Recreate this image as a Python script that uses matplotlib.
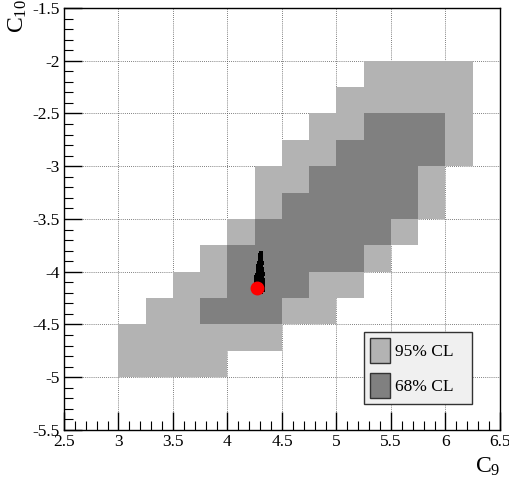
import matplotlib
matplotlib.use("Agg")
import matplotlib.pyplot as plt
from matplotlib.colors import ListedColormap
from matplotlib.patches import Patch
from matplotlib.ticker import MultipleLocator, FuncFormatter
import numpy as np

plt.rcParams['font.family'] = ['Liberation Serif', 'DejaVu Serif']
plt.rcParams['axes.unicode_minus'] = False

# bin edges of the CL map
c9_edges = np.arange(3.0, 6.26, 0.25)     # 13 bins
c10_edges = np.arange(-5.0, -1.99, 0.25)  # 12 bins

# 0 = outside, 1 = 95% CL, 2 = 68% CL ; rows from C10 = -5 upward
cl_levels = [
    [1, 1, 1, 1, 0, 0, 0, 0, 0, 0, 0, 0, 0],
    [1, 1, 1, 1, 1, 1, 0, 0, 0, 0, 0, 0, 0],
    [0, 1, 1, 2, 2, 2, 1, 1, 0, 0, 0, 0, 0],
    [0, 0, 1, 1, 2, 2, 2, 1, 1, 0, 0, 0, 0],
    [0, 0, 0, 1, 2, 2, 2, 2, 2, 1, 0, 0, 0],
    [0, 0, 0, 0, 1, 2, 2, 2, 2, 2, 1, 0, 0],
    [0, 0, 0, 0, 0, 1, 2, 2, 2, 2, 2, 1, 0],
    [0, 0, 0, 0, 0, 1, 1, 2, 2, 2, 2, 1, 0],
    [0, 0, 0, 0, 0, 0, 1, 1, 2, 2, 2, 2, 1],
    [0, 0, 0, 0, 0, 0, 0, 1, 1, 2, 2, 2, 1],
    [0, 0, 0, 0, 0, 0, 0, 0, 1, 1, 1, 1, 1],
    [0, 0, 0, 0, 0, 0, 0, 0, 0, 1, 1, 1, 1],
]

# sampled points near the best fit
c9_samples = [4.305, 4.300, 4.312, 4.295, 4.308, 4.298, 4.288, 4.315, 4.300, 4.284,
              4.310, 4.292, 4.320, 4.280, 4.302, 4.290, 4.314, 4.276, 4.297, 4.324,
              4.272, 4.288, 4.310, 4.266, 4.294, 4.318, 4.280, 4.302, 4.328, 4.262,
              4.276, 4.292, 4.308, 4.324, 4.266, 4.284, 4.300, 4.318, 4.258, 4.274,
              4.290, 4.306, 4.326, 4.262, 4.280, 4.296, 4.314, 4.256, 4.272, 4.288,
              4.304, 4.322, 4.260, 4.278, 4.296, 4.312, 4.266, 4.286, 4.304, 4.276]
c10_samples = [-3.82, -3.84, -3.86, -3.87, -3.89, -3.90, -3.92, -3.92, -3.94, -3.95,
               -3.95, -3.97, -3.97, -3.98, -3.99, -4.00, -4.00, -4.01, -4.02, -4.02,
               -4.03, -4.04, -4.04, -4.05, -4.06, -4.06, -4.07, -4.08, -4.08, -4.09,
               -4.09, -4.10, -4.10, -4.11, -4.11, -4.12, -4.12, -4.12, -4.13, -4.13,
               -4.14, -4.14, -4.14, -4.15, -4.15, -4.15, -4.16, -4.16, -4.16, -4.17,
               -4.17, -4.17, -4.18, -4.18, -4.18, -4.18, -4.19, -4.19, -4.19, -4.20]

best_fit = (4.275, -4.158)

light = '#b3b3b3'
dark = '#808080'

fig = plt.figure(figsize=(5.09, 4.79), dpi=100)
ax = fig.add_axes([0.1257, 0.1023, 0.8566, 0.881])

levels = np.ma.masked_equal(np.array(cl_levels), 0)
ax.pcolormesh(c9_edges, c10_edges, levels, cmap=ListedColormap([light, dark]),
              vmin=0.5, vmax=2.5, edgecolors='none')

ax.scatter(c9_samples, c10_samples, s=5, c='black', marker='s', linewidths=0, zorder=3)
ax.plot(*best_fit, marker='o', ms=9, color='red', mec='red', zorder=4)

ax.set_xlim(2.5, 6.5)
ax.set_ylim(-5.5, -1.5)
ax.xaxis.set_major_locator(MultipleLocator(0.5))
ax.yaxis.set_major_locator(MultipleLocator(0.5))
ax.xaxis.set_minor_locator(MultipleLocator(0.1))
ax.yaxis.set_minor_locator(MultipleLocator(0.1))
fmt = FuncFormatter(lambda v, p: '%g' % v)
ax.xaxis.set_major_formatter(fmt)
ax.yaxis.set_major_formatter(fmt)
ax.tick_params(which='both', direction='in', top=False, right=False, labelsize=12.5)
ax.tick_params(which='major', length=13, width=1)
ax.tick_params(which='minor', length=6.5, width=0.8)
ax.tick_params(axis='x', pad=3)
ax.tick_params(axis='y', pad=3)

ax.set_axisbelow(True)
ax.grid(True, which='major', color='#555555', lw=0.6, linestyle=(0, (1, 1.5)))

for s in ax.spines.values():
    s.set_linewidth(1.0)

ax.set_xlabel(r'$\mathregular{C_{9}}$', fontsize=17, loc='right')
ax.xaxis.set_label_coords(1.0, -0.062)
ax.set_ylabel(r'$\mathregular{C_{10}}$', fontsize=17, loc='top')
ax.yaxis.set_label_coords(-0.08, 1.02)

handles = [Patch(facecolor=light, edgecolor='#333333', label='95% CL'),
           Patch(facecolor=dark, edgecolor='#333333', label='68% CL')]
leg = ax.legend(handles=handles, loc='lower left', bbox_to_anchor=(0.688, 0.0616, 0.248, 0.17),
                mode='expand', borderaxespad=0, fontsize=12.5, fancybox=False, framealpha=1,
                facecolor='#f0f0f0', edgecolor='#333333', handlelength=1.15,
                handleheight=1.8, handletextpad=0.3, labelspacing=0.6, borderpad=0.35)
leg.get_frame().set_linewidth(1.0)

fig.savefig('out.png', dpi=100)
